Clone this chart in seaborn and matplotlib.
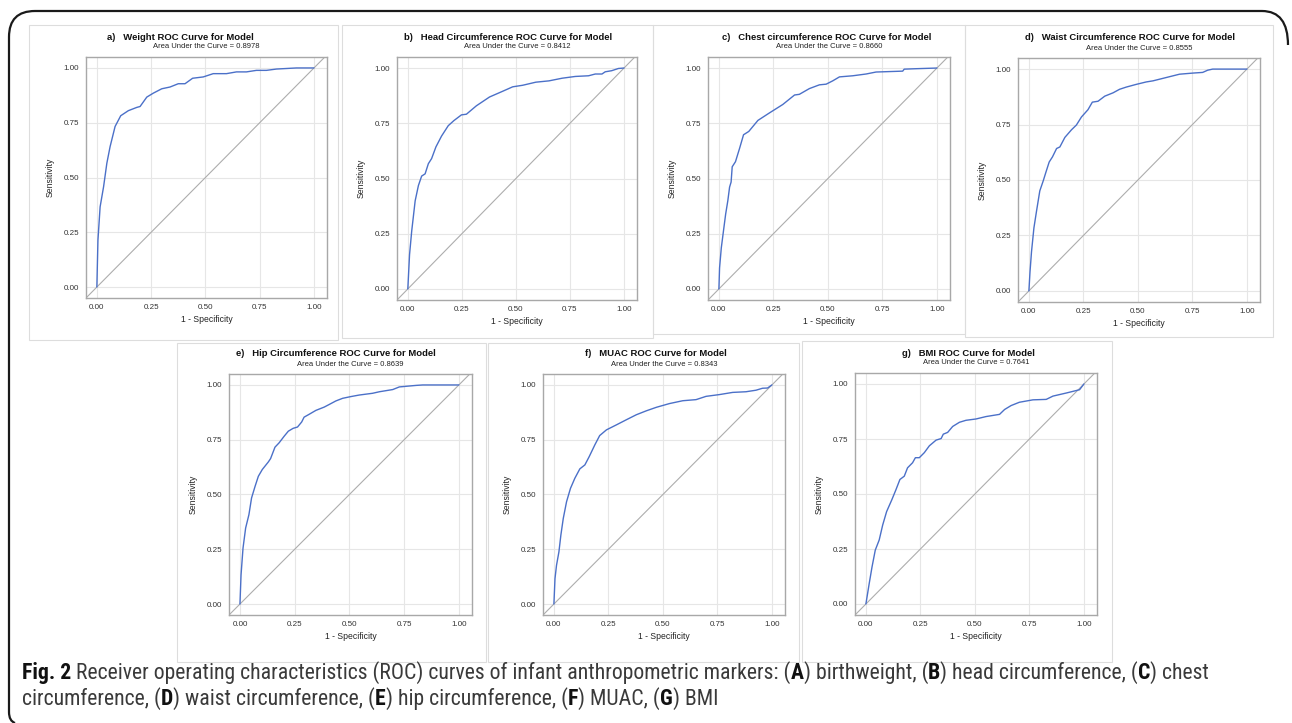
import matplotlib.pyplot as plt
import matplotlib.patches as mpatches
import matplotlib.transforms as mtransforms
from matplotlib import font_manager as fm
from matplotlib.path import Path
import seaborn as sns
import numpy as np
import pandas as pd

W, H = 1292, 723

# ---- data ----
panel_letters = ['a', 'b', 'c', 'd', 'e', 'f', 'g']
marker_names = ['Weight', 'Head Circumference', 'Chest circumference',
                'Waist Circumference', 'Hip Circumference', 'MUAC', 'BMI']
auc_values = [0.8978, 0.8412, 0.8660, 0.8555, 0.8639, 0.8343, 0.7641]

weight_fpr = [0, 0.005, 0.015, 0.031, 0.046, 0.061, 0.084, 0.110, 0.145, 0.184,
              0.199, 0.230, 0.260, 0.299, 0.337, 0.375, 0.406, 0.441, 0.490,
              0.536, 0.597, 0.643, 0.689, 0.735, 0.781, 0.827, 0.919, 1.0]
weight_tpr = [0, 0.214, 0.366, 0.458, 0.565, 0.641, 0.733, 0.782, 0.805, 0.820,
              0.824, 0.867, 0.885, 0.905, 0.913, 0.928, 0.928, 0.953, 0.959,
              0.974, 0.974, 0.982, 0.982, 0.989, 0.989, 0.995, 1.0, 1.0]

head_fpr = [0, 0.008, 0.018, 0.034, 0.049, 0.064, 0.080, 0.095, 0.110, 0.130,
            0.156, 0.187, 0.213, 0.248, 0.271, 0.317, 0.378, 0.439, 0.485,
            0.531, 0.592, 0.653, 0.714, 0.775, 0.836, 0.867, 0.898, 0.913,
            0.943, 0.974, 1.0]
head_tpr = [0, 0.155, 0.262, 0.399, 0.468, 0.511, 0.521, 0.567, 0.590, 0.643,
            0.692, 0.739, 0.762, 0.788, 0.791, 0.829, 0.869, 0.895, 0.915,
            0.922, 0.936, 0.942, 0.954, 0.962, 0.965, 0.973, 0.973, 0.983,
            0.988, 0.998, 1.0]

chest_fpr = [0, 0.003, 0.011, 0.021, 0.031, 0.041, 0.049, 0.056, 0.061, 0.076,
             0.095, 0.113, 0.137, 0.179, 0.232, 0.293, 0.347, 0.369, 0.415,
             0.461, 0.492, 0.522, 0.553, 0.614, 0.675, 0.721, 0.843, 0.850,
             0.904, 1.0]
chest_tpr = [0, 0.095, 0.186, 0.263, 0.339, 0.400, 0.461, 0.484, 0.553, 0.576,
             0.637, 0.698, 0.713, 0.763, 0.797, 0.835, 0.878, 0.881, 0.907,
             0.924, 0.927, 0.942, 0.960, 0.965, 0.973, 0.982, 0.986, 0.995,
             0.997, 1.0]

waist_fpr = [0, 0.005, 0.012, 0.023, 0.035, 0.050, 0.066, 0.078, 0.093, 0.108,
             0.127, 0.142, 0.165, 0.195, 0.218, 0.241, 0.271, 0.291, 0.317,
             0.348, 0.386, 0.416, 0.447, 0.492, 0.538, 0.569, 0.630, 0.691,
             0.752, 0.797, 0.820, 0.843, 1.0]
waist_tpr = [0, 0.085, 0.177, 0.284, 0.360, 0.451, 0.497, 0.535, 0.581, 0.604,
             0.642, 0.649, 0.692, 0.726, 0.748, 0.784, 0.817, 0.851, 0.855,
             0.878, 0.893, 0.909, 0.919, 0.931, 0.942, 0.947, 0.962, 0.977,
             0.982, 0.985, 0.995, 1.0, 1.0]

hip_fpr = [0, 0.005, 0.014, 0.026, 0.041, 0.053, 0.069, 0.084, 0.102, 0.130,
           0.140, 0.160, 0.179, 0.202, 0.221, 0.243, 0.263, 0.282, 0.293,
           0.316, 0.347, 0.385, 0.408, 0.438, 0.469, 0.507, 0.545, 0.606,
           0.637, 0.698, 0.728, 0.805, 0.835, 1.0]
hip_tpr = [0, 0.133, 0.255, 0.347, 0.408, 0.484, 0.537, 0.583, 0.614, 0.649,
           0.664, 0.716, 0.736, 0.766, 0.789, 0.802, 0.808, 0.831, 0.853,
           0.866, 0.884, 0.899, 0.911, 0.927, 0.939, 0.947, 0.954, 0.962,
           0.969, 0.979, 0.991, 0.998, 1.0, 1.0]

muac_fpr = [0, 0.005, 0.012, 0.023, 0.032, 0.043, 0.058, 0.076, 0.096, 0.119,
            0.142, 0.162, 0.188, 0.210, 0.241, 0.287, 0.332, 0.378, 0.424,
            0.470, 0.530, 0.591, 0.652, 0.698, 0.759, 0.820, 0.881, 0.927,
            0.957, 0.980, 1.0]
muac_tpr = [0, 0.116, 0.177, 0.238, 0.315, 0.391, 0.467, 0.528, 0.574, 0.617,
            0.635, 0.673, 0.727, 0.769, 0.795, 0.818, 0.841, 0.864, 0.882,
            0.898, 0.915, 0.928, 0.933, 0.948, 0.956, 0.966, 0.969, 0.976,
            0.985, 0.986, 1.0]

bmi_fpr = [0, 0.015, 0.028, 0.043, 0.061, 0.077, 0.095, 0.119, 0.138, 0.156,
           0.176, 0.191, 0.214, 0.227, 0.245, 0.268, 0.291, 0.322, 0.345,
           0.355, 0.375, 0.398, 0.429, 0.459, 0.505, 0.551, 0.613, 0.636,
           0.666, 0.704, 0.766, 0.827, 0.858, 0.919, 0.980, 1.0]
bmi_tpr = [0, 0.092, 0.168, 0.245, 0.291, 0.359, 0.420, 0.474, 0.520, 0.566,
           0.581, 0.619, 0.642, 0.665, 0.665, 0.688, 0.719, 0.745, 0.752,
           0.772, 0.780, 0.807, 0.826, 0.835, 0.841, 0.852, 0.862, 0.884,
           0.902, 0.917, 0.928, 0.930, 0.945, 0.959, 0.974, 1.0]

curves_fpr = [weight_fpr, head_fpr, chest_fpr, waist_fpr, hip_fpr, muac_fpr, bmi_fpr]
curves_tpr = [weight_tpr, head_tpr, chest_tpr, waist_tpr, hip_tpr, muac_tpr, bmi_tpr]

tick_values = [0.0, 0.25, 0.50, 0.75, 1.0]
tick_labels = ['0.00', '0.25', '0.50', '0.75', '1.00']

# caption pieces: (text, bold)
caption_line1 = [('Fig. 2', True),
                 (' Receiver operating characteristics (ROC) curves of infant '
                  'anthropometric markers: (', False),
                 ('A', True), (') birthweight, (', False), ('B', True),
                 (') head circumference, (', False), ('C', True), (') chest', False)]
caption_line2 = [('circumference, (', False), ('D', True), (') waist circumference, (', False),
                 ('E', True), (') hip circumference, (', False), ('F', True),
                 (') MUAC, (', False), ('G', True), (') BMI', False)]

# ---- layout (pixels: left, top, right, bottom) ----
axes_boxes = [(86, 57, 327, 298), (397, 57, 637, 300), (708, 57, 950, 300),
              (1018, 58, 1260, 302), (229, 374, 472, 615), (543, 374, 785, 615),
              (855, 373, 1097, 615)]
title_centers = [180, 508, 827, 1130, 336, 656, 968]
panel_boxes = [(29, 25, 338, 340), (342, 25, 653, 338), (653, 25, 965, 334),
               (965, 25, 1273, 337), (177, 343, 486, 662), (488, 343, 799, 662),
               (802, 341, 1112, 662)]

CURVE_COLOR = '#4B70C8'
GRID_COLOR = '#E6E6E6'
FRAME_COLOR = '#A8A8A8'
PANEL_FONT = 'Liberation Sans'


def px_rect(box):
    l, t, r, b = box
    return [l / W, 1 - b / H, (r - l) / W, (b - t) / H]


def _prepare_plot_style():
    sns.set_theme(style="whitegrid")
    plt.rcParams['font.family'] = [PANEL_FONT, 'DejaVu Sans']


def _caption_fonts():
    # look for a narrow/condensed sans face; fall back to Open Sans
    prefs = ['Liberation Sans Narrow', 'Open Sans', 'Noto Sans', 'Roboto',
             'DejaVu Sans', 'Lato']
    narrow = [f for f in fm.fontManager.ttflist
              if f.style == 'normal' and (f.stretch != 'normal'
                                          or 'Narrow' in f.name or 'Condensed' in f.name)]
    for fam in prefs:
        cands = [f for f in narrow if f.name.startswith(fam)]
        reg = [f for f in cands if f.weight in (400, 'normal', 'regular', 'book')]
        bold = [f for f in cands if f.weight in (700, 'bold')]
        if reg and bold:
            return (fm.FontProperties(fname=reg[0].fname),
                    fm.FontProperties(fname=bold[0].fname))
    return (fm.FontProperties(family='Open Sans'),
            fm.FontProperties(family='Open Sans', weight='bold'))


def _text_width(renderer, s, fp):
    w1 = renderer.get_text_width_height_descent('x' + s + 'x', fp, ismath=False)[0]
    w0 = renderer.get_text_width_height_descent('xx', fp, ismath=False)[0]
    return w1 - w0


def _sized(fp, size):
    p = fp.copy()
    p.set_size(size)
    return p


def draw_caption(fig, lines, baselines, x0, target_width):
    renderer = fig.canvas.get_renderer()
    regular, bold = _caption_fonts()
    size = 13.0
    width = sum(_text_width(renderer, s, _sized(bold if b else regular, size))
                for s, b in lines[0])
    size = size * target_width / width
    for pieces, y in zip(lines, baselines):
        x = x0
        for s, b in pieces:
            fp = _sized(bold if b else regular, size)
            fig.text(x / W, 1 - y / H, s, fontproperties=fp, ha='left',
                     va='baseline', color='#111111' if b else '#3A3A3A')
            x += _text_width(renderer, s, fp)


def draw_roc_panel(fig, i):
    ax = fig.add_axes(px_rect(axes_boxes[i]))
    df = pd.DataFrame({'fpr': curves_fpr[i], 'tpr': curves_tpr[i]})

    ax.axline((0, 0), slope=1, color='#ADADAD', lw=0.8, zorder=2)
    sns.lineplot(data=df, x='fpr', y='tpr', ax=ax, color=CURVE_COLOR,
                 lw=1.0, sort=False, estimator=None, zorder=3)

    ax.set_xlim(-0.05, 1.06)
    ax.set_ylim(-0.05, 1.05)
    ax.set_xticks(tick_values, tick_labels)
    ax.set_yticks(tick_values, tick_labels)
    ax.tick_params(axis='both', length=0, labelsize=5.8, colors='#333333')
    ax.tick_params(axis='x', pad=4.5)
    ax.tick_params(axis='y', pad=5.0)
    ax.set_xlabel('1 - Specificity', fontsize=6.2, labelpad=3.0, color='#222222')
    ax.set_ylabel('Sensitivity', fontsize=6.2, labelpad=6.0, color='#222222')
    ax.grid(True, color=GRID_COLOR, lw=0.8)
    ax.set_facecolor('white')
    for sp in ax.spines.values():
        sp.set_color(FRAME_COLOR)
        sp.set_linewidth(1.0)

    l, t, r, b = axes_boxes[i]
    fig.text(title_centers[i] / W, 1 - (t - 20) / H,
             f'{panel_letters[i]})   {marker_names[i]} ROC Curve for Model',
             ha='center', va='center', fontsize=6.8, fontweight='bold',
             color='#111111')
    fig.text((l + r) / 2 / W, 1 - (t - 10) / H,
             f'Area Under the Curve = {auc_values[i]:.4f}',
             ha='center', va='center', fontsize=5.5, color='#222222')
    return ax


def draw_frames(fig):
    to_fig = mtransforms.Affine2D().scale(1 / W, -1 / H).translate(0, 1) + fig.transFigure
    for l, t, r, b in panel_boxes:
        fig.add_artist(mpatches.Rectangle((l, t), r - l, b - t, transform=to_fig,
                                          fill=False, ec='#DDDDDD', lw=0.8))
    verts = [(1288, 45), (1288, 11), (1262, 11), (35, 11), (9, 11), (9, 37),
             (9, 712), (9, 721), (15, 723)]
    codes = [Path.MOVETO, Path.CURVE3, Path.CURVE3, Path.LINETO, Path.CURVE3,
             Path.CURVE3, Path.LINETO, Path.CURVE3, Path.CURVE3]
    fig.add_artist(mpatches.PathPatch(Path(verts, codes), transform=to_fig,
                                      fill=False, ec='#1A1A1A', lw=1.6))


def main():
    _prepare_plot_style()
    fig = plt.figure(figsize=(W / 100, H / 100), dpi=100)
    fig.patch.set_facecolor('white')

    draw_frames(fig)
    for i in range(len(panel_letters)):
        draw_roc_panel(fig, i)

    draw_caption(fig, [caption_line1, caption_line2], [679, 705], 22, 1185)

    fig.savefig('out.png', dpi=100, facecolor='white')


main()
